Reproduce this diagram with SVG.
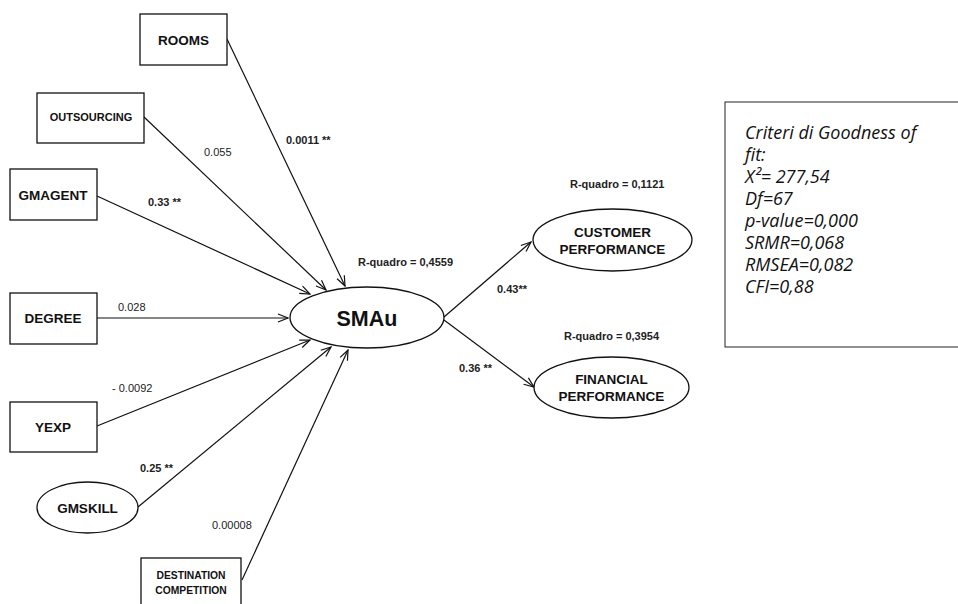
<svg xmlns="http://www.w3.org/2000/svg" width="958" height="604" viewBox="0 0 958 604">
  <style>
    .box { fill: #fff; stroke: #111; stroke-width: 1.3; }
    .ell { fill: #fff; stroke: #111; stroke-width: 1.3; }
    .lbl { font-family: "Liberation Sans", Arial, sans-serif; font-weight: bold; fill: #111; text-anchor: middle; }
    .coef { font-family: "Liberation Sans", Arial, sans-serif; font-size: 11px; fill: #222; }
    .coefb { font-family: "Liberation Sans", Arial, sans-serif; font-size: 11px; font-weight: bold; fill: #222; }
    .edge { stroke: #111; stroke-width: 1.2; fill: none; marker-end: url(#arrow); }
    .fit { font-family: "Open Sans", "Liberation Sans", sans-serif; font-style: italic; font-size: 18px; fill: #111; }
  </style>
  <defs>
    <marker id="arrow" viewBox="0 0 12 10" refX="11" refY="5" markerWidth="12" markerHeight="10" markerUnits="userSpaceOnUse" orient="auto">
      <path d="M1,1 L11,5 L1,9" fill="none" stroke="#111" stroke-width="1.2"/>
    </marker>
  </defs>
  <rect width="958" height="604" fill="#fff"/>

  <!-- connectors -->
  <g id="connectors">
    <line class="edge" x1="227" y1="39" x2="345" y2="286"/>
    <line class="edge" x1="144" y1="117" x2="326" y2="290"/>
    <line class="edge" x1="97" y1="196" x2="310" y2="294"/>
    <line class="edge" x1="97" y1="318" x2="288" y2="318"/>
    <line class="edge" x1="97" y1="426" x2="310" y2="340"/>
    <line class="edge" x1="138" y1="507" x2="331" y2="347"/>
    <line class="edge" x1="242" y1="580" x2="348" y2="350"/>
    <line class="edge" x1="444" y1="317" x2="531" y2="242"/>
    <line class="edge" x1="444" y1="320" x2="534" y2="387"/>
  </g>

  <!-- path coefficients -->
  <g id="coefficients">
    <text class="coefb" x="286" y="144">0.0011 **</text>
    <text class="coef" x="204" y="156">0.055</text>
    <text class="coefb" x="148" y="206">0.33 **</text>
    <text class="coef" x="118" y="311">0.028</text>
    <text class="coef" x="112" y="392">- 0.0092</text>
    <text class="coefb" x="140" y="472">0.25 **</text>
    <text class="coef" x="212" y="529">0.00008</text>
    <text class="coefb" x="358" y="266">R-quadro = 0,4559</text>
    <text class="coefb" x="570" y="188">R-quadro = 0,1121</text>
    <text class="coefb" x="564" y="340">R-quadro = 0,3954</text>
    <text class="coefb" x="497" y="293">0.43**</text>
    <text class="coefb" x="459" y="372">0.36 **</text>
  </g>

  <!-- observed variables -->
  <g id="rooms">
    <rect class="box" x="140" y="14" width="87" height="51"/>
    <text class="lbl" x="183.5" y="44.5" font-size="13.5">ROOMS</text>
  </g>
  <g id="outsourcing">
    <rect class="box" x="37" y="93" width="107" height="50"/>
    <text class="lbl" x="91" y="121" font-size="11">OUTSOURCING</text>
  </g>
  <g id="gmagent">
    <rect class="box" x="10" y="169" width="87" height="51"/>
    <text class="lbl" x="53" y="199.5" font-size="13.5">GMAGENT</text>
  </g>
  <g id="degree">
    <rect class="box" x="10" y="293" width="87" height="51"/>
    <text class="lbl" x="53" y="323" font-size="13.5">DEGREE</text>
  </g>
  <g id="yexp">
    <rect class="box" x="10" y="402" width="87" height="50"/>
    <text class="lbl" x="53" y="432" font-size="13.5">YEXP</text>
  </g>
  <g id="gmskill">
    <ellipse class="ell" cx="87.5" cy="507.5" rx="50.5" ry="25.5"/>
    <text class="lbl" x="87.5" y="512.5" font-size="13.5">GMSKILL</text>
  </g>
  <g id="destination-competition">
    <rect class="box" x="141" y="558" width="100" height="60"/>
    <text class="lbl" x="191" y="579" font-size="10.3">DESTINATION</text>
    <text class="lbl" x="191" y="594" font-size="10.3">COMPETITION</text>
  </g>

  <!-- latent constructs -->
  <g id="smau">
    <ellipse class="ell" cx="367" cy="317.5" rx="77" ry="30.5"/>
    <text class="lbl" x="367" y="326" font-size="21.5">SMAu</text>
  </g>
  <g id="customer-performance">
    <ellipse class="ell" cx="612.5" cy="240" rx="79.5" ry="31"/>
    <text class="lbl" x="612.5" y="237" font-size="13.5">CUSTOMER</text>
    <text class="lbl" x="612.5" y="254" font-size="13.5">PERFORMANCE</text>
  </g>
  <g id="financial-performance">
    <ellipse class="ell" cx="611.5" cy="387.5" rx="77.5" ry="30.5"/>
    <text class="lbl" x="611.5" y="384" font-size="13.5">FINANCIAL</text>
    <text class="lbl" x="611.5" y="401" font-size="13.5">PERFORMANCE</text>
  </g>

  <!-- goodness-of-fit summary -->
  <g id="fit-box">
    <rect x="725" y="102" width="240" height="245" fill="#fff" stroke="#222" stroke-width="1"/>
    <text class="fit" x="745" y="139">Criteri di Goodness of</text>
    <text class="fit" x="745" y="161">fit:</text>
    <text class="fit" x="745" y="183">X²= 277,54</text>
    <text class="fit" x="745" y="205">Df=67</text>
    <text class="fit" x="745" y="227">p-value=0,000</text>
    <text class="fit" x="745" y="249">SRMR=0,068</text>
    <text class="fit" x="745" y="271">RMSEA=0,082</text>
    <text class="fit" x="745" y="293">CFI=0,88</text>
  </g>
</svg>
